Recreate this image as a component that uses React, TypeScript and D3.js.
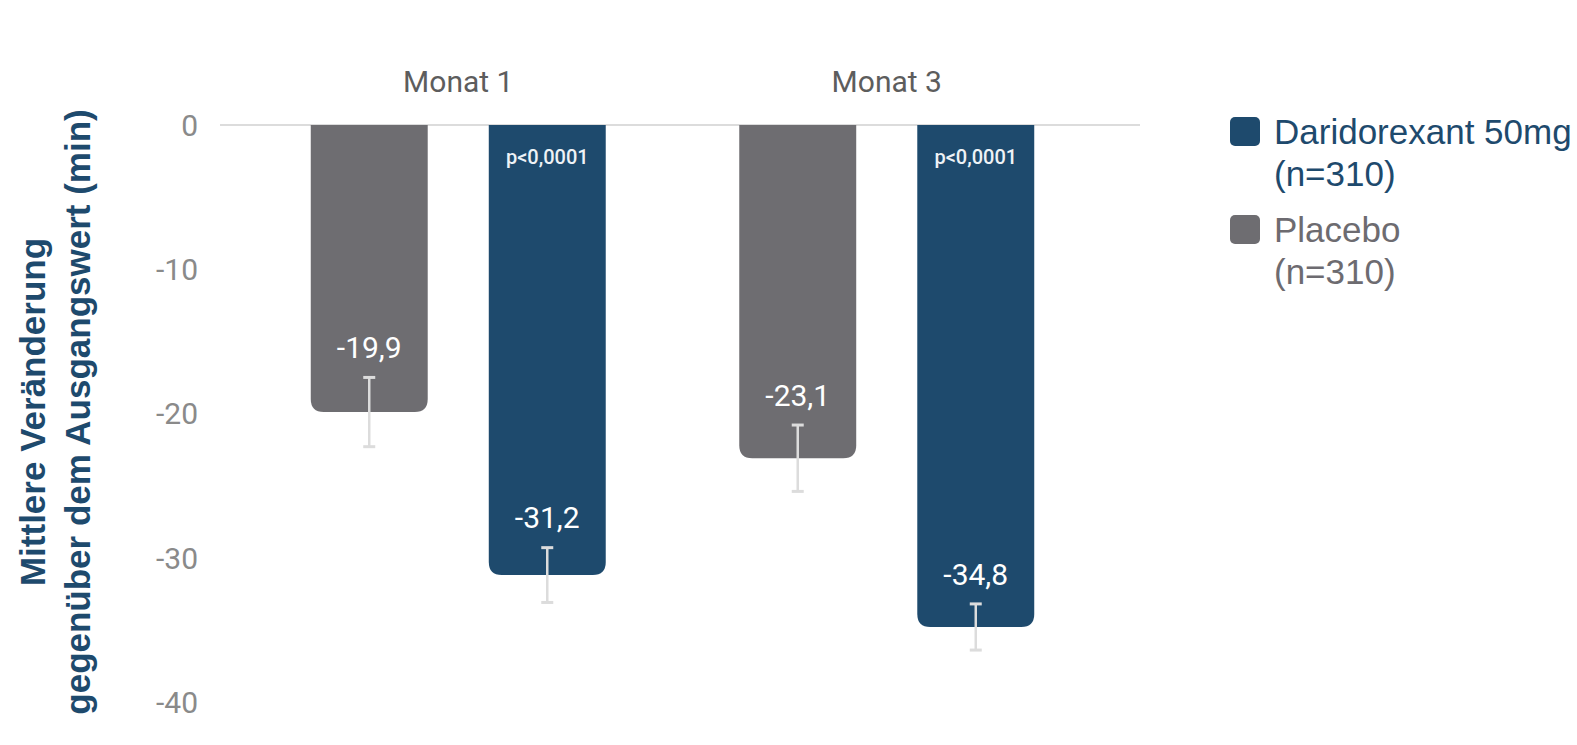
import React from "react";
import * as d3 from "d3";

const months = ["Monat 1", "Monat 3"];
const seriesKeys = ["Placebo", "Daridorexant"];
const placeboValues = [-19.9, -23.1];
const daridorexantValues = [-31.2, -34.8];
const placeboErrors = [2.4, 2.3];
const daridorexantErrors = [1.9, 1.6];
const pValues = ["p<0,0001", "p<0,0001"];
const yTicks = [0, -10, -20, -30, -40];
const legendLabels = [
  ["Daridorexant 50mg", "(n=310)"],
  ["Placebo", "(n=310)"],
];

const W = 1577;
const H = 745;
const DARI = "#1e4a6d";
const PLAC = "#6e6d71";

function bottomRoundedRect(x: number, y0: number, w: number, y1: number, r: number) {
  const p = d3.path();
  const rr = Math.min(r, Math.abs(y1 - y0));
  p.moveTo(x, y0);
  p.lineTo(x + w, y0);
  p.lineTo(x + w, y1 - rr);
  p.quadraticCurveTo(x + w, y1, x + w - rr, y1);
  p.lineTo(x + rr, y1);
  p.quadraticCurveTo(x, y1, x, y1 - rr);
  p.closePath();
  return p.toString();
}

export default function App() {
  const y = d3.scaleLinear().domain([0, -40]).range([125, 702]);
  const x0 = d3.scaleBand<string>().domain(months).range([244, 1101]).padding(0);
  const x1 = d3
    .scaleBand<string>()
    .domain(seriesKeys)
    .range([0, x0.bandwidth()])
    .paddingInner(0.343)
    .paddingOuter(0.375);

  const data = months.map((m, i) => ({
    month: m,
    bars: [
      { key: "Placebo", value: placeboValues[i], err: placeboErrors[i], color: PLAC, p: "" },
      { key: "Daridorexant", value: daridorexantValues[i], err: daridorexantErrors[i], color: DARI, p: pValues[i] },
    ],
  }));

  const fmt = (v: number) => d3.format(".1f")(v).replace(".", ",").replace("−", "-");

  return (
    <div style={{ position: "fixed", left: 0, top: 0 }}>
      <svg width={W} height={H} style={{ display: "block", background: "#fff" }}>
        <line x1={220} x2={1140} y1={y(0)} y2={y(0)} stroke="#dcdcdc" strokeWidth={2} />
        {yTicks.map((t) => (
          <text key={t} x={198} y={y(t)} dy="0.36em" textAnchor="end" fontFamily="Roboto" fontSize={30} fill="#8a8a8a">
            {t === 0 ? "0" : String(t)}
          </text>
        ))}
        <g transform={`translate(45, 412) rotate(-90)`}>
          <text textAnchor="middle" fontFamily="Liberation Sans, Arial" fontWeight="bold" fontSize={35} fill="#1e4a6d">
            <tspan x={0} y={0}>Mittlere Veränderung</tspan>
            <tspan x={0} y={45}>gegenüber dem Ausgangswert (min)</tspan>
          </text>
        </g>
        {data.map((g) => (
          <g key={g.month} transform={`translate(${x0(g.month)},0)`}>
            <text x={x0.bandwidth() / 2} y={81} dy="0.36em" textAnchor="middle" fontFamily="Roboto" fontSize={30} fill="#5d5d5d">
              {g.month}
            </text>
            {g.bars.map((b) => {
              const bx = x1(b.key) as number;
              const bw = x1.bandwidth();
              const cx = bx + bw / 2;
              const yTop = y(b.value + b.err);
              const yBot = y(b.value - b.err);
              return (
                <g key={b.key}>
                  <path d={bottomRoundedRect(bx, y(0), bw, y(b.value), 13)} fill={b.color} />
                  {b.p && (
                    <text x={cx} y={157} dy="0.36em" textAnchor="middle" fontFamily="Roboto" fontWeight={500} fontSize={20} fill="#eef2f6">
                      {b.p}
                    </text>
                  )}
                  <text x={cx} y={yTop - 30} dy="0.36em" textAnchor="middle" fontFamily="Roboto" fontSize={30} fill="#fff">
                    {fmt(b.value)}
                  </text>
                  <line x1={cx} x2={cx} y1={yTop} y2={yBot} stroke="#dcdcdc" strokeWidth={2.5} />
                  <line x1={cx - 6} x2={cx + 6} y1={yTop} y2={yTop} stroke="#dcdcdc" strokeWidth={3} />
                  <line x1={cx - 6} x2={cx + 6} y1={yBot} y2={yBot} stroke="#dcdcdc" strokeWidth={3} />
                </g>
              );
            })}
          </g>
        ))}
        {legendLabels.map((lab, i) => {
          const color = i === 0 ? DARI : "#6d6b70";
          const top = 117 + i * 98;
          return (
            <g key={i}>
              <rect x={1230} y={top} width={30} height={29} rx={5} fill={i === 0 ? DARI : PLAC} />
              <text x={1274} y={top + 14} dy="0.36em" fontFamily="Liberation Sans, Arial" fontSize={35} fill={color}>
                {lab[0]}
              </text>
              <text x={1274} y={top + 56} dy="0.36em" fontFamily="Liberation Sans, Arial" fontSize={35} fill={color}>
                {lab[1]}
              </text>
            </g>
          );
        })}
      </svg>
    </div>
  );
}
